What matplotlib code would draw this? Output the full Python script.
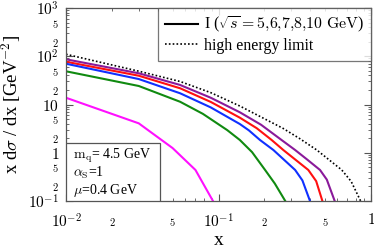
import matplotlib.pyplot as plt
from matplotlib.lines import Line2D
from matplotlib.patches import Rectangle

plt.rcParams['font.family'] = ['Liberation Serif', 'DejaVu Serif']
plt.rcParams['mathtext.fontset'] = 'cm'

# curve values (x, x dsigma/dx)
x_limit = [0.01, 0.03, 0.056, 0.089, 0.138, 0.265, 0.342, 0.441, 0.643, 0.741, 0.855]
y_limit = [110, 49, 30, 17.6, 9.3, 3.2, 1.95, 1.14, 0.44, 0.255, 0.1]

x_10 = [0.01, 0.03, 0.056, 0.089, 0.138, 0.19, 0.259, 0.318, 0.38, 0.463, 0.513, 0.578]
y_10 = [86.5, 44.4, 25.4, 13.8, 6.9, 3.81, 1.84, 1.14, 0.73, 0.44, 0.278, 0.1]

x_8 = [0.01, 0.03, 0.056, 0.089, 0.138, 0.178, 0.223, 0.266, 0.388, 0.437, 0.480]
y_8 = [77, 39.5, 21.7, 11.3, 5.33, 3.23, 1.84, 1.14, 0.44, 0.258, 0.1]

x_7 = [0.01, 0.03, 0.056, 0.089, 0.138, 0.158, 0.187, 0.229, 0.318, 0.355, 0.398]
y_7 = [70, 33.7, 17.1, 8.7, 3.94, 2.92, 1.84, 1.14, 0.44, 0.267, 0.1]

x_6 = [0.01, 0.03, 0.056, 0.079, 0.114, 0.138, 0.166, 0.202, 0.234, 0.274]
y_6 = [48.8, 24.2, 11.4, 6.4, 2.95, 1.84, 1.03, 0.44, 0.23, 0.1]

x_5 = [0.01, 0.03, 0.05, 0.0706, 0.092]
y_5 = [13.8, 4.07, 1.25, 0.44, 0.1]

curves = [
    (x_limit, y_limit, 'black', (0, (1, 1.3))),
    (x_10, y_10, '#8a1a9a', '-'),
    (x_8, y_8, '#ff1010', '-'),
    (x_7, y_7, '#1030ff', '-'),
    (x_6, y_6, '#108a10', '-'),
    (x_5, y_5, '#ff10ff', '-'),
]

yticks_major = [0.1, 1, 10, 100, 1000]
ylabels_major = ['$10^{-1}$', '$1$', '$10$', '$10^2$', '$10^3$']
xticks_major = [0.01, 0.1, 1]
xlabels_major = ['$10^{-2}$', '$10^{-1}$', '$1$']
mantissas = list(range(2, 10))

fig = plt.figure(figsize=(3.74, 2.48), dpi=100)
ax = fig.add_axes([0.1765, 0.1895, 0.8155, 0.7782])

for xs, ys, c, ls in curves:
    ax.plot(xs, ys, color=c, ls=ls, lw=1.5 if ls == '-' else 1.2)

ax.set_xscale('log')
ax.set_yscale('log')
ax.set_xlim(0.01, 1)
ax.set_ylim(0.1, 1000)

ax.set_yticks(yticks_major)
ax.set_yticklabels(ylabels_major, fontsize=11)
ax.set_xticks(xticks_major)
ax.set_xticklabels(xlabels_major, fontsize=11)

ymin = [m * 10.0 ** e for e in range(-1, 3) for m in mantissas]
xmin = [m * 10.0 ** e for e in range(-2, 0) for m in mantissas]
ax.set_yticks(ymin, minor=True)
ax.set_yticklabels(['$%d$' % m if m in (2, 5) else '' for e in range(-1, 3) for m in mantissas],
                   minor=True, fontsize=7.5)
ax.set_xticks(xmin, minor=True)
ax.set_xticklabels(['$%d$' % m if m in (2, 5) else '' for e in range(-2, 0) for m in mantissas],
                   minor=True, fontsize=7.5)

ax.tick_params(which='both', direction='in', top=True, right=True, color='#555555')
ax.tick_params(which='major', length=5, width=0.8)
ax.tick_params(which='minor', length=2.5, width=0.6)
ax.tick_params(axis='x', which='major', pad=8)
ax.tick_params(axis='x', which='minor', pad=11)
ax.tick_params(axis='y', which='both', pad=5)
for s in ax.spines.values():
    s.set_color('#555555')
    s.set_linewidth(0.9)

ax.set_xlabel('x', fontsize=14)
ax.xaxis.set_label_coords(0.5, -0.16)
ax.set_ylabel(r'x d$\sigma$ / dx [GeV$^{-2}$]', fontsize=13.5)
ax.yaxis.set_label_coords(-0.14, 0.5)

handles = [Line2D([], [], color='black', lw=1.5),
           Line2D([], [], color='black', ls=(0, (1, 1.3)), lw=1.2)]
leg = ax.legend(handles, [r'I ($\sqrt{s}=5{,}6{,}7{,}8{,}10\ \mathrm{GeV}$)', 'high energy limit'],
                loc='upper right', fontsize=11.4, frameon=True, fancybox=False,
                borderaxespad=0, handlelength=2.1, handletextpad=0.35,
                labelspacing=0.15, borderpad=0.45)
leg.get_frame().set_edgecolor('#555555')
leg.get_frame().set_linewidth(0.9)

ax.add_patch(Rectangle((0, 0), 0.308, 0.302, transform=ax.transAxes, fill=True,
                       facecolor='white', edgecolor='#555555', lw=0.9, zorder=5))
ax.text(0.023, 0.233, r'$\mathrm{m_q}$= 4.5 GeV', transform=ax.transAxes,
        fontsize=10, va='center', ha='left', zorder=6)
ax.text(0.023, 0.145, r'$\alpha_\mathrm{S}$=1', transform=ax.transAxes,
        fontsize=10, va='center', ha='left', zorder=6)
ax.text(0.023, 0.057, r'$\mu$=0.4 GeV', transform=ax.transAxes,
        fontsize=10, va='center', ha='left', zorder=6)

fig.savefig('out.png', dpi=100)
